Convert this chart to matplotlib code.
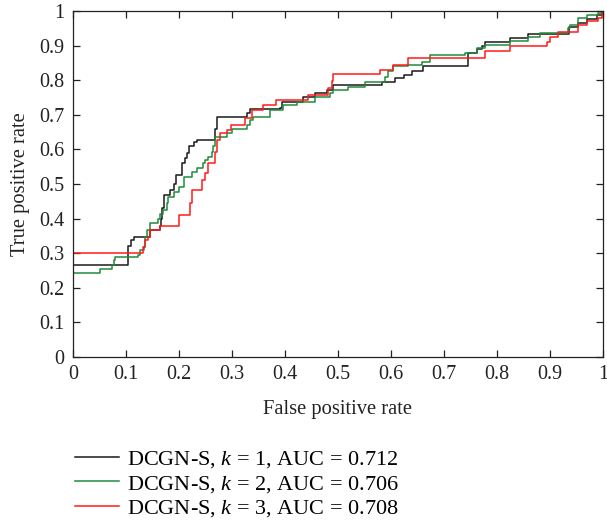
import matplotlib
matplotlib.use('Agg')
import matplotlib.pyplot as plt

plt.rcParams['font.family'] = ['Liberation Serif', 'DejaVu Serif']
plt.rcParams['mathtext.fontset'] = 'custom'
plt.rcParams['mathtext.it'] = 'Liberation Serif:italic'
plt.rcParams['mathtext.rm'] = 'Liberation Serif'

# ROC step corners (fpr, tpr)
fpr_k1 = [0, 0, 0.104, 0.110, 0.115, 0.145, 0.164, 0.166, 0.168, 0.172, 0.183, 0.190, 0.195,
          0.206, 0.212, 0.215, 0.220, 0.228, 0.235, 0.268, 0.272, 0.328, 0.335, 0.390, 0.395,
          0.435, 0.456, 0.480, 0.490, 0.583, 0.608, 0.625, 0.640, 0.660, 0.746, 0.762, 0.771,
          0.777, 0.825, 0.859, 0.935, 0.953, 0.969, 0.988, 0.998, 1.0]
tpr_k1 = [0, 0.266, 0.320, 0.338, 0.348, 0.367, 0.380, 0.400, 0.430, 0.468, 0.483, 0.500, 0.526,
          0.560, 0.575, 0.590, 0.610, 0.620, 0.627, 0.660, 0.694, 0.705, 0.717, 0.720, 0.738,
          0.752, 0.763, 0.772, 0.786, 0.795, 0.806, 0.815, 0.827, 0.842, 0.878, 0.889, 0.899,
          0.910, 0.921, 0.933, 0.955, 0.964, 0.976, 0.988, 1.0, 1.0]

fpr_k2 = [0, 0, 0.051, 0.073, 0.078, 0.080, 0.123, 0.126, 0.134, 0.137, 0.140, 0.145, 0.160,
          0.165, 0.170, 0.178, 0.180, 0.190, 0.200, 0.210, 0.225, 0.235, 0.245, 0.250, 0.255,
          0.262, 0.265, 0.268, 0.290, 0.300, 0.328, 0.335, 0.340, 0.372, 0.397, 0.422, 0.457,
          0.485, 0.491, 0.519, 0.551, 0.589, 0.594, 0.604, 0.633, 0.658, 0.674, 0.740, 0.762,
          0.777, 0.825, 0.859, 0.881, 0.934, 0.938, 0.953, 0.969, 0.991, 1.0]
tpr_k2 = [0, 0.243, 0.254, 0.266, 0.280, 0.288, 0.295, 0.309, 0.318, 0.348, 0.367, 0.387, 0.400,
          0.413, 0.425, 0.445, 0.462, 0.477, 0.491, 0.520, 0.535, 0.546, 0.560, 0.569, 0.578,
          0.592, 0.610, 0.636, 0.647, 0.659, 0.670, 0.685, 0.695, 0.714, 0.728, 0.738, 0.752,
          0.762, 0.772, 0.781, 0.796, 0.810, 0.827, 0.841, 0.844, 0.853, 0.873, 0.879, 0.892,
          0.902, 0.914, 0.926, 0.935, 0.950, 0.960, 0.979, 0.988, 0.995, 1.0]

fpr_k3 = [0, 0, 0.132, 0.136, 0.142, 0.145, 0.164, 0.200, 0.221, 0.224, 0.243, 0.249, 0.255,
          0.268, 0.272, 0.277, 0.290, 0.299, 0.325, 0.337, 0.359, 0.384, 0.444, 0.482, 0.488,
          0.490, 0.579, 0.604, 0.632, 0.777, 0.825, 0.894, 0.900, 0.916, 0.953, 0.969, 0.991,
          0.998, 1.0]
tpr_k3 = [0, 0.301, 0.319, 0.338, 0.348, 0.367, 0.380, 0.410, 0.444, 0.483, 0.512, 0.531, 0.560,
          0.593, 0.627, 0.646, 0.656, 0.670, 0.690, 0.714, 0.728, 0.742, 0.757, 0.776, 0.797,
          0.818, 0.829, 0.844, 0.863, 0.885, 0.899, 0.911, 0.926, 0.938, 0.960, 0.970, 0.979,
          0.990, 1.0]

labels = ['DCGN-S, $k$ = 1, AUC = 0.712',
          'DCGN-S, $k$ = 2, AUC = 0.706',
          'DCGN-S, $k$ = 3, AUC = 0.708']
colors = ['#1a1a1a', '#1f8a3a', '#ff1a1a']

fig = plt.figure(figsize=(6.07, 5.23), dpi=100)
ax = fig.add_axes([0.120, 0.3174, 0.8734, 0.6616])

curves = [(fpr_k1, tpr_k1), (fpr_k2, tpr_k2), (fpr_k3, tpr_k3)]
for (fx, ty), lab, col in zip(curves, labels, colors):
    ax.plot(fx, ty, drawstyle='steps-post', color=col, lw=1.1, label=lab)

ax.set_xlim(0, 1)
ax.set_ylim(0, 1)
ticks = [i / 10 for i in range(11)]
ticklabels = ['0'] + ['%.1f' % t for t in ticks[1:-1]] + ['1']
ax.set_xticks(ticks)
ax.set_xticklabels(ticklabels)
ax.set_yticks(ticks)
ax.set_yticklabels(ticklabels)
ax.tick_params(direction='in', top=True, right=True, length=5, width=0.9,
               labelsize=14.5, colors='#222222', pad=6)
for sp in ax.spines.values():
    sp.set_linewidth(0.9)
    sp.set_color('#222222')

ax.set_xlabel('False positive rate', fontsize=14.8, color='#222222', labelpad=11)
ax.set_ylabel('True positive rate', fontsize=14.8, color='#222222', labelpad=7)

fig.legend(loc='upper left', bbox_to_anchor=(0.1087, 0.1587), frameon=False,
           fontsize=16, handlelength=2.0, handletextpad=0.36, labelspacing=0.17,
           borderaxespad=0)

fig.savefig('out.png', dpi=100)
